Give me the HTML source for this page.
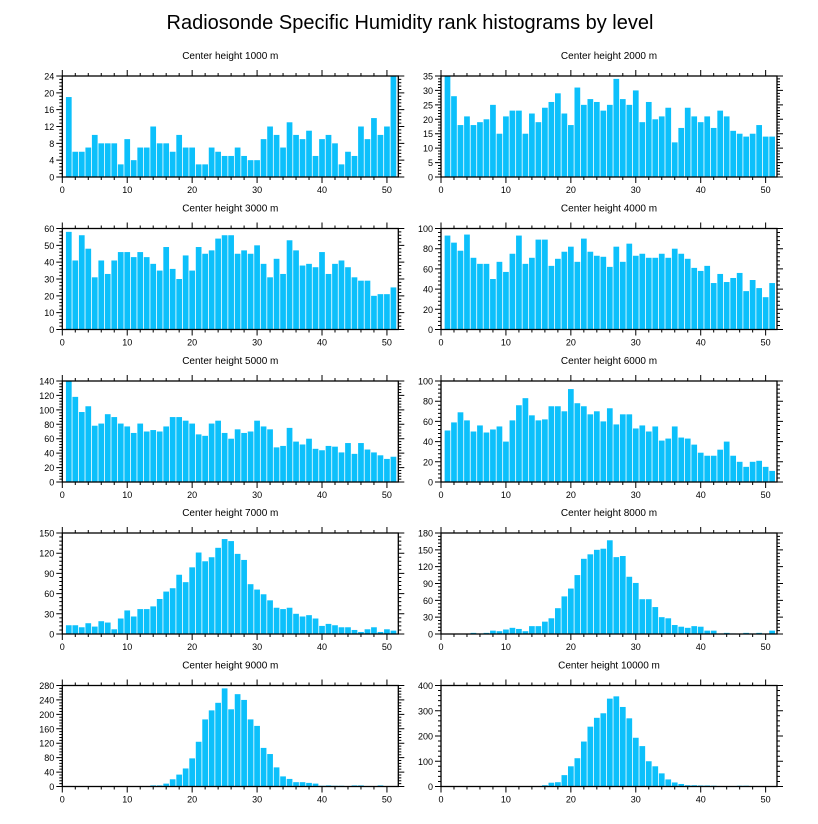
<!DOCTYPE html>
<html><head><meta charset="utf-8"><style>
body{margin:0;background:#fff;}
svg{display:block;font-family:"Liberation Sans",sans-serif;}
</style></head><body>
<svg id="chart" width="818" height="824" viewBox="0 0 818 824" xmlns="http://www.w3.org/2000/svg">
<text x="410" y="29" font-size="20" text-anchor="middle">Radiosonde Specific Humidity rank histograms by level</text>
</svg>
<script>
const levels = ["1000","2000","3000","4000","5000","6000","7000","8000","9000","10000"];
const v1000 = [19,6,6,7,10,8,8,8,3,9,4,7,7,12,8,8,6,10,7,7,3,3,7,6,5,5,7,5,4,4,9,12,10,7,13,10,9,11,5,9,10,8,3,6,5,12,9,14,10,12,24];
const v2000 = [35,28,18,21,18,19,20,25,15,21,23,23,15,22,19,24,26,29,22,18,31,25,27,26,23,25,34,27,25,30,19,26,20,21,24,12,17,24,21,19,21,17,23,21,16,15,14,15,18,14,14];
const v3000 = [58,41,56,48,31,41,33,41,46,46,43,46,43,39,35,49,36,30,44,35,49,45,47,54,56,56,45,47,45,50,39,31,42,33,53,47,38,39,37,46,33,39,41,37,31,29,29,20,21,21,25];
const v4000 = [93,86,78,94,71,65,65,50,67,57,75,93,65,71,89,89,63,70,77,82,67,90,77,73,72,62,82,67,85,73,75,71,71,75,71,80,75,70,61,58,63,46,55,47,51,56,38,49,41,32,46];
const v5000 = [140,118,97,105,78,81,94,90,81,77,68,81,70,72,70,77,90,90,85,81,66,64,81,85,68,60,73,68,70,85,77,73,48,50,75,56,52,60,46,44,50,49,41,54,39,54,45,41,37,32,35];
const v6000 = [51,59,69,61,50,56,49,52,55,40,61,76,83,66,61,62,75,75,70,92,78,75,67,70,60,73,57,67,67,53,56,50,55,41,43,55,44,43,37,29,26,26,32,40,26,20,15,20,21,15,11];
const v7000 = [13,13,10,16,11,19,17,7,23,35,26,37,37,41,52,63,68,88,77,99,121,108,114,128,141,138,119,110,74,66,59,50,39,37,39,30,26,28,23,12,15,13,10,10,6,3,7,10,3,7,5];
const v8000 = [0,0,0,0,2,1,2,6,5,8,11,9,5,14,14,22,28,46,67,81,105,134,142,150,152,167,137,139,102,91,62,62,48,30,28,16,13,11,14,13,6,6,1,2,1,0,2,1,2,0,6];
const v9000 = [0,0,0,0,0,0,0,0,0,0,0,1,1,3,3,8,20,33,50,78,124,186,211,232,272,214,256,240,186,168,107,90,53,28,21,12,12,10,8,2,3,2,2,1,3,3,1,1,3,1,1];
const v10000 = [0,0,0,0,0,0,0,0,0,0,0,0,0,0,2,5,15,17,45,80,112,178,237,272,290,348,357,315,270,193,160,100,80,52,28,16,10,5,5,4,4,3,2,2,2,3,3,2,2,1,1];
const yTicks1000 = [0,4,8,12,16,20,24];
const yTicks2000 = [0,5,10,15,20,25,30,35];
const yTicks3000 = [0,10,20,30,40,50,60];
const yTicks4000 = [0,20,40,60,80,100];
const yTicks5000 = [0,20,40,60,80,100,120,140];
const yTicks6000 = [0,20,40,60,80,100];
const yTicks7000 = [0,30,60,90,120,150];
const yTicks8000 = [0,30,60,90,120,150,180];
const yTicks9000 = [0,40,80,120,160,200,240,280];
const yTicks10000 = [0,100,200,300,400];
const xTicks = [0,10,20,30,40,50];

const series = [v1000,v2000,v3000,v4000,v5000,v6000,v7000,v8000,v9000,v10000];
const yTickSets = [yTicks1000,yTicks2000,yTicks3000,yTicks4000,yTicks5000,yTicks6000,yTicks7000,yTicks8000,yTicks9000,yTicks10000];

const svg = document.getElementById('chart');
const NS = 'http://www.w3.org/2000/svg';
function mk(tag, attrs, parent){
  const e = document.createElementNS(NS, tag);
  for (const k in attrs) e.setAttribute(k, attrs[k]);
  parent.appendChild(e);
  return e;
}
const X0 = [62.3, 441], W = 336, XMAX = 51.75;
const TOPS = [76, 228.5, 381, 533, 685.5], H = 101;

series.forEach((vals, i) => {
  const col = i % 2, row = Math.floor(i / 2);
  const left = X0[col], top = TOPS[row], bottom = top + H;
  const ticks = yTickSets[i];
  const ymax = ticks[ticks.length - 1];
  const xs = v => left + v / XMAX * W;
  const ys = v => bottom - v / ymax * H;
  const g = mk('g', {}, svg);
  
  
  const t = mk('text', {x: left + W / 2, y: top - 17, 'font-size': 10, 'text-anchor': 'middle'}, g);
  
  
  t.textContent = 'Center height ' + levels[i] + ' m';
  vals.forEach((v, k) => {
    if (v <= 0) return;
    const x = k + 1;
    const r = mk('rect', {x: xs(x - 0.44), y: ys(v), width: xs(x + 0.44) - xs(x - 0.44), height: bottom - ys(v), fill: '#0cc0fb'}, g);
    
    
  });
  // frame
  const f = mk('rect', {x: left, y: top, width: W, height: H, fill: 'none', stroke: '#000', 'stroke-width': 1.3}, g);
  
  
  let d = '';
  for (let m = 0; m <= 51; m += 2) {
    const len = (m % 10 === 0) ? 6 : 3;
    const x = xs(m);
    d += `M${x},${bottom}v${len}M${x},${top}v${-len}`;
  }
  const step = ticks[1] - ticks[0];
  for (let m = 0; m <= ymax + 1e-9; m += step / 5) {
    const major = Math.abs(m / step - Math.round(m / step)) < 1e-6;
    const len = major ? 6 : 3;
    const y = ys(m);
    d += `M${left},${y}h${-len}M${left + W},${y}h${len}`;
  }
  const tk = mk('path', {d: d, stroke: '#000', 'stroke-width': 1, fill: 'none'}, g);
  
  
  ticks.forEach(v => {
    const l = mk('text', {x: left - 8, y: ys(v) + 3.5, 'font-size': 9, 'text-anchor': 'end'}, g);
    
    
    l.textContent = v;
  });
  xTicks.forEach(v => {
    const l = mk('text', {x: xs(v), y: bottom + 16, 'font-size': 9, 'text-anchor': 'middle'}, g);
    
    
    l.textContent = v;
  });
});
</script>
</body></html>
